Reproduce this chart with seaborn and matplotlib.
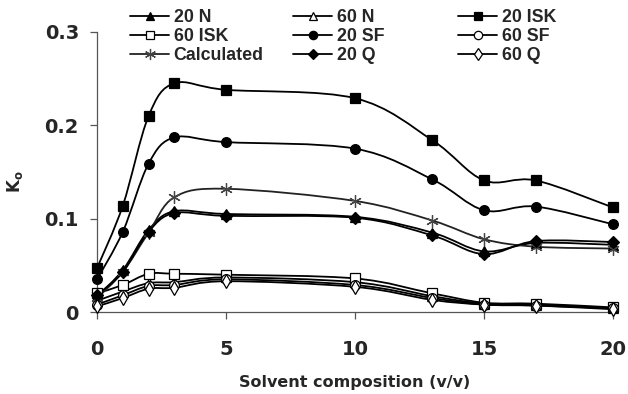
import numpy as np
import pandas as pd
import matplotlib
matplotlib.use("Agg")
import matplotlib.pyplot as plt
from matplotlib.path import Path
from matplotlib.patches import PathPatch
from matplotlib.lines import Line2D
from matplotlib.font_manager import FontProperties
import seaborn as sns

# Solvent composition (v/v) and K_o for each series
composition = [0, 1, 2, 3, 5, 10, 13, 15, 17, 20]
k_20N = [0.017, 0.045, 0.088, 0.108, 0.105, 0.102, 0.085, 0.065, 0.074, 0.072]
k_60N = [0.012, 0.022, 0.031, 0.032, 0.037, 0.032, 0.017, 0.009, 0.008, 0.004]
k_20ISK = [0.047, 0.114, 0.210, 0.245, 0.238, 0.229, 0.184, 0.141, 0.141, 0.112]
k_60ISK = [0.020, 0.029, 0.041, 0.041, 0.040, 0.036, 0.020, 0.010, 0.009, 0.005]
k_20SF = [0.035, 0.086, 0.159, 0.187, 0.182, 0.175, 0.142, 0.109, 0.113, 0.094]
k_60SF = [0.008, 0.018, 0.028, 0.029, 0.035, 0.029, 0.015, 0.008, 0.007, 0.004]
k_calc = [0.015, 0.043, 0.085, 0.123, 0.132, 0.119, 0.098, 0.078, 0.070, 0.068]
k_20Q = [0.018, 0.043, 0.086, 0.106, 0.103, 0.101, 0.082, 0.062, 0.076, 0.075]
k_60Q = [0.006, 0.015, 0.025, 0.026, 0.033, 0.027, 0.013, 0.008, 0.007, 0.003]

series_names = ["20 N", "60 N", "20 ISK", "60 ISK", "20 SF", "60 SF",
                "Calculated", "20 Q", "60 Q"]
series_values = [k_20N, k_60N, k_20ISK, k_60ISK, k_20SF, k_60SF,
                 k_calc, k_20Q, k_60Q]

styles = {
    "20 N": dict(marker="^", face="black", size=7),
    "60 N": dict(marker="^", face="white", size=7),
    "20 ISK": dict(marker="s", face="black", size=7),
    "60 ISK": dict(marker="s", face="white", size=7),
    "20 SF": dict(marker="o", face="black", size=7),
    "60 SF": dict(marker="o", face="white", size=7),
    "Calculated": dict(marker=(6, 2, 0), face="#444444", size=9),
    "20 Q": dict(marker="D", face="black", size=6.5),
    "60 Q": dict(marker="d", face="white", size=7),
}

df = pd.DataFrame(
    [(n, x, v) for n, vals in zip(series_names, series_values)
     for x, v in zip(composition, vals)],
    columns=["series", "composition", "K"],
)

sns.set_theme(style="white")
plt.rcParams["font.family"] = ["DejaVu Sans"]
plt.rcParams["font.weight"] = "bold"
plt.rcParams["mathtext.default"] = "bf"

fig = plt.figure(figsize=(6.28, 3.94), dpi=100)
ax = fig.add_axes([0.1545, 0.208, 0.8215, 0.711])


def smooth_path(xs, ys):
    """Bezier path through the points with Catmull-Rom style tangents."""
    pts = np.column_stack([xs, ys]).astype(float)
    n = len(pts)
    verts = [pts[0]]
    codes = [Path.MOVETO]
    for i in range(n - 1):
        p0 = pts[i - 1] if i > 0 else pts[i]
        p1 = pts[i]
        p2 = pts[i + 1]
        p3 = pts[i + 2] if i + 2 < n else pts[i + 1]
        c1 = p1 + (p2 - p0) / 6.0
        c2 = p2 - (p3 - p1) / 6.0
        verts += [c1, c2, p2]
        codes += [Path.CURVE4] * 3
    return Path(verts, codes)


handles = {}
for name in series_names:
    sub = df[df["series"] == name]
    st = styles[name]
    edge = "#444444" if name == "Calculated" else "black"
    line_col = "#222222" if name == "Calculated" else "black"
    ax.add_patch(PathPatch(smooth_path(sub["composition"], sub["K"]),
                           facecolor="none", edgecolor=line_col, lw=1.3,
                           zorder=2, clip_on=False))
    sns.lineplot(data=sub, x="composition", y="K", ax=ax, linestyle="none",
                 marker=st["marker"], markersize=st["size"],
                 markerfacecolor=st["face"], markeredgecolor=edge,
                 markeredgewidth=0.9, color=line_col, legend=False,
                 zorder=3, clip_on=False)
    handles[name] = Line2D([0], [0], color=line_col, lw=1.3,
                           marker=st["marker"], markersize=st["size"] - 1,
                           markerfacecolor=st["face"], markeredgecolor=edge,
                           markeredgewidth=0.9, label=name)

ax.set_xlim(0, 20)
ax.set_ylim(0, 0.3)
ax.set_xticks([0, 5, 10, 15, 20])
ax.set_xticklabels(["0", "5", "10", "15", "20"])
ax.set_yticks([0, 0.1, 0.2, 0.3])
ax.set_yticklabels(["0", "0.1", "0.2", "0.3"])
ax.tick_params(axis="both", labelsize=14, length=5, width=0.9,
               color="#555555", direction="out")
ax.tick_params(axis="x", bottom=True, pad=15)
ax.tick_params(axis="y", left=True, pad=8)
for lbl in ax.get_xticklabels() + ax.get_yticklabels():
    lbl.set_fontweight("bold")

sns.despine(ax=ax)
for sp in ("left", "bottom"):
    ax.spines[sp].set_color("#555555")
    ax.spines[sp].set_linewidth(0.9)

ax.set_xlabel("Solvent composition (v/v)", fontsize=11.5, fontweight="bold")
ax.xaxis.set_label_coords(0.5, -0.225)
ax.set_ylabel(r"K$_\mathregular{o}$", fontsize=12, fontweight="bold")
ax.yaxis.set_label_coords(-0.1395, 0.464)

# Three legend columns, each anchored at its own handle start
leg_font = FontProperties(family="Liberation Sans", weight="bold", size=12.8)
columns = [["20 N", "60 ISK", "Calculated"],
           ["60 N", "20 SF", "20 Q"],
           ["20 ISK", "60 SF", "60 Q"]]
col_x = [130, 293, 458]
for names, x0 in zip(columns, col_x):
    leg = fig.legend([handles[n] for n in names], names,
                     loc="upper left", bbox_to_anchor=(x0 / 628, 1 - 9 / 394),
                     frameon=False, prop=leg_font, handlelength=2.2,
                     handletextpad=0.25, labelspacing=0.12, borderpad=0,
                     borderaxespad=0)

fig.savefig("out.png", dpi=100)
